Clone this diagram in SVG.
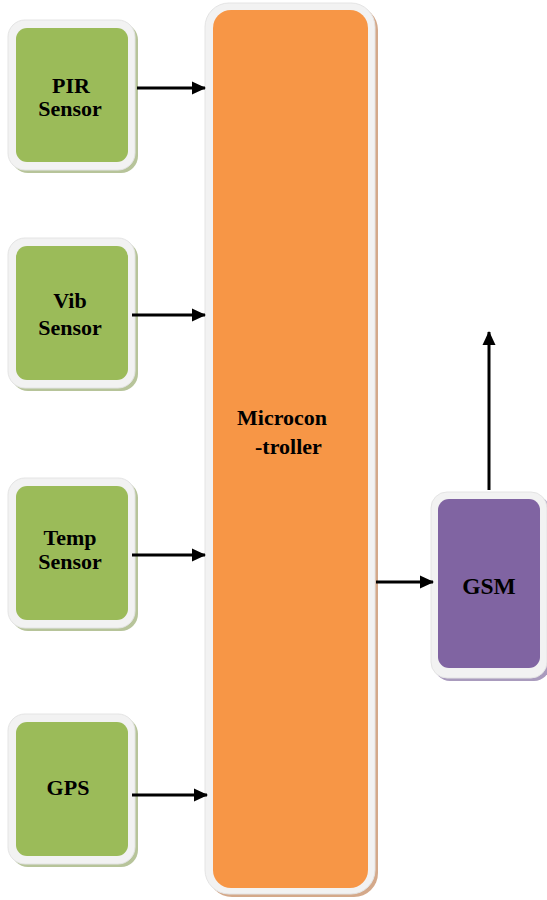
<svg xmlns="http://www.w3.org/2000/svg" width="547" height="900" viewBox="0 0 547 900">
<style>
.frame{fill:#f2f2f2;stroke:#e4e4e4;stroke-width:1}
.sg{fill:#b7c49a}
.so{fill:#d4a98a}
.sp{fill:#a99bbd}
.green{fill:#9bbb59}
.orange{fill:#f79646}
.purple{fill:#8064a2}
.lbl{font-family:"Liberation Serif","Times New Roman",serif;font-weight:bold;font-size:22px;fill:#000}
.c{text-anchor:middle}
.conn{stroke:#000;stroke-width:3;fill:none}
</style>
<defs>
<marker id="ah" viewBox="0 0 14 14" refX="13" refY="7" markerWidth="14" markerHeight="14" markerUnits="userSpaceOnUse" orient="auto">
<path d="M0,0.5 L14,7 L0,13.5 z" fill="#000"/>
</marker>
</defs>
<rect width="547" height="900" fill="#fff"/>
<g id="pir">
<rect class="sg" x="11" y="23" width="127" height="150" rx="17"/>
<rect class="frame" x="8" y="20" width="127" height="150" rx="17"/>
<rect class="green" x="16" y="28" width="112" height="134" rx="11"/>
<text class="lbl c" x="71" y="93">PIR</text>
<text class="lbl c" x="70" y="116">Sensor</text>
</g>
<g id="vib">
<rect class="sg" x="11" y="241" width="127" height="150" rx="17"/>
<rect class="frame" x="8" y="238" width="127" height="150" rx="17"/>
<rect class="green" x="16" y="246" width="112" height="134" rx="11"/>
<text class="lbl c" x="70" y="308">Vib</text>
<text class="lbl c" x="70" y="335">Sensor</text>
</g>
<g id="temp">
<rect class="sg" x="11" y="481" width="127" height="150" rx="17"/>
<rect class="frame" x="8" y="478" width="127" height="150" rx="17"/>
<rect class="green" x="16" y="486" width="112" height="134" rx="11"/>
<text class="lbl c" x="70" y="545">Temp</text>
<text class="lbl c" x="70" y="569">Sensor</text>
</g>
<g id="gps">
<rect class="sg" x="11" y="717" width="127" height="150" rx="17"/>
<rect class="frame" x="8" y="714" width="127" height="150" rx="17"/>
<rect class="green" x="16" y="722" width="112" height="134" rx="11"/>
<text class="lbl c" x="68" y="795">GPS</text>
</g>
<g id="mcu">
<rect class="so" x="208" y="6" width="170" height="891" rx="24"/>
<rect class="frame" x="205" y="3" width="170" height="891" rx="24"/>
<rect class="orange" x="213" y="10" width="155" height="878" rx="18"/>
<text class="lbl" x="237" y="425">Microcon</text>
<text class="lbl" x="255" y="454">-troller</text>
</g>
<g id="gsm">
<rect class="sp" x="434" y="495" width="116" height="186" rx="16"/>
<rect class="frame" x="431" y="492" width="116" height="186" rx="16"/>
<rect class="purple" x="438" y="499" width="102" height="169" rx="11"/>
<text class="lbl c" x="489" y="594" style="font-size:23.5px">GSM</text>
</g>
<g id="connectors">
<line class="conn" x1="137" y1="88" x2="205" y2="88" marker-end="url(#ah)"/>
<line class="conn" x1="132" y1="315" x2="205" y2="315" marker-end="url(#ah)"/>
<line class="conn" x1="132" y1="555" x2="205" y2="555" marker-end="url(#ah)"/>
<line class="conn" x1="132" y1="795" x2="207" y2="795" marker-end="url(#ah)"/>
<line class="conn" x1="376" y1="582" x2="433" y2="582" marker-end="url(#ah)"/>
<line class="conn" x1="489" y1="490" x2="489" y2="332" marker-end="url(#ah)"/>
</g>
</svg>
